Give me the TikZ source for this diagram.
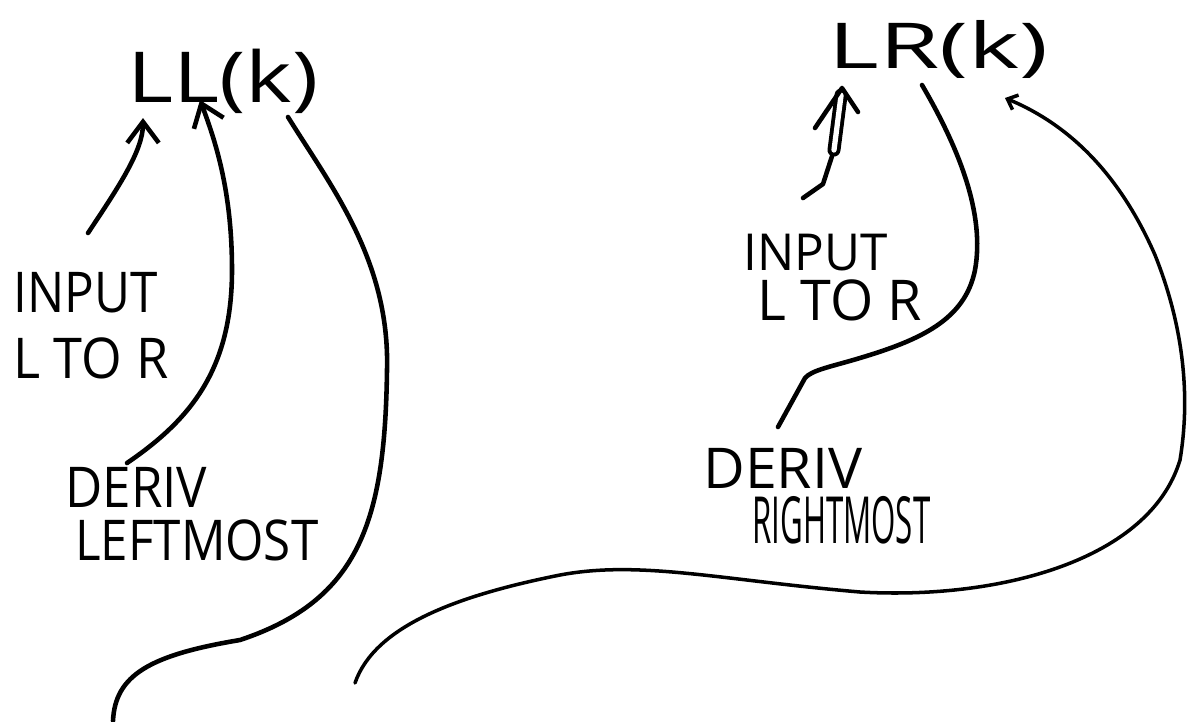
\documentclass[tikz,border=0pt]{standalone}
\usepackage{fontspec}
\setmainfont{Open Sans}
\usetikzlibrary{arrows.meta}
\newcommand\fitw[2]{\resizebox{#1}{\height}{#2}}

\begin{document}
\begin{tikzpicture}[x=.02cm,y=-.02cm,
  hand/.style={line width=2.6pt,line cap=round,line join=round},
  thin hand/.style={hand,line width=2pt},
  barb/.style={-{Straight Barb[length=12pt,width=18pt]}},
  word/.style={inner sep=0pt,anchor=base west,font=\fontsize{32}{38}\selectfont},
  title/.style={word,font=\fontsize{40}{48}\selectfont}]
\useasboundingbox (0,0) rectangle (1187,721);

\node[title] (ll) at (127,102) {\fitw{3.82cm}{LL(k)}};
\node[word] (inl1) at (13,312) {\fitw{2.88cm}{INPUT}};
\node[word] (inl2) at (13,378) {\fitw{3.1cm}{L TO R}};
\node[word] (derl1) at (65,507) {\fitw{2.84cm}{DERIV}};
\node[word] (derl2) at (75,560) {\fitw{4.86cm}{LEFTMOST}};

\node[title,font=\fontsize{36}{44}\selectfont] (lr) at (828,68) {\fitw{4.4cm}{LR(k)}};
\node[word,font=\fontsize{29}{34}\selectfont] (inr1) at (743,270) {\fitw{2.88cm}{INPUT}};
\node[word] (inr2) at (757,320) {\fitw{3.3cm}{L TO R}};
\node[word] (derr1) at (703,488) {\fitw{3.18cm}{DERIV}};
\node[word,font=\fontsize{37}{44}\selectfont] (derr2) at (752,543) {\fitw{3.56cm}{RIGHTMOST}};

\coordinate (drop) at (113,721);
\coordinate (tail) at (355,683);
\coordinate (lrfoot) at ([shift={(14,20)}]lr.base west);

% left half
\draw[hand,barb] ([shift={(75,-79)}]inl1.base west) .. controls (120,185) and (143,150) .. ([shift={(16,16)}]ll.base west);
\draw[hand,barb] ([shift={(62,-44)}]derl1.base west) .. controls (190,420) and (232,370) .. (232,270)
  .. controls (232,190) and (215,140) .. ([shift={(73,-2)}]ll.base west);
\draw[hand] ([shift={(161,15)}]ll.base west) .. controls (330,185) and (390,260) .. (387,370)
  .. controls (385,520) and (360,600) .. (240,640) .. controls (150,655) and (115,675) .. (drop);

% right half
\draw[hand] ([shift={(60,-72)}]inr1.base west) -- (823,184) -- (834,150) coordinate (kink);
\draw[line width=2.2pt,line cap=round,double,double distance=3pt,shorten >=4] (kink) -- (lrfoot);
\draw[hand] ([shift={(-27,40)}]lrfoot) -- (lrfoot) -- ([shift={(16,24)}]lrfoot);
\draw[hand] ([shift={(94,17)}]lr.base west) .. controls (960,150) and (985,215) .. (975,270)
  .. controls (965,320) and (920,340) .. (860,358) .. controls (830,367) and (812,370) .. (805,378)
  -- ([shift={(75,-61)}]derr1.base west);
\draw[thin hand,-{Straight Barb[length=5pt,width=9pt]}] (tail) .. controls (375,625) and (460,595) .. (560,575)
  .. controls (640,560) and (720,580) .. (860,592) .. controls (1000,600) and (1150,560) .. (1180,460)
  .. controls (1190,400) and (1185,330) .. (1155,255) .. controls (1120,175) and (1070,125) .. ([shift={(177,30)}]lr.base west);
\end{tikzpicture}
\end{document}
